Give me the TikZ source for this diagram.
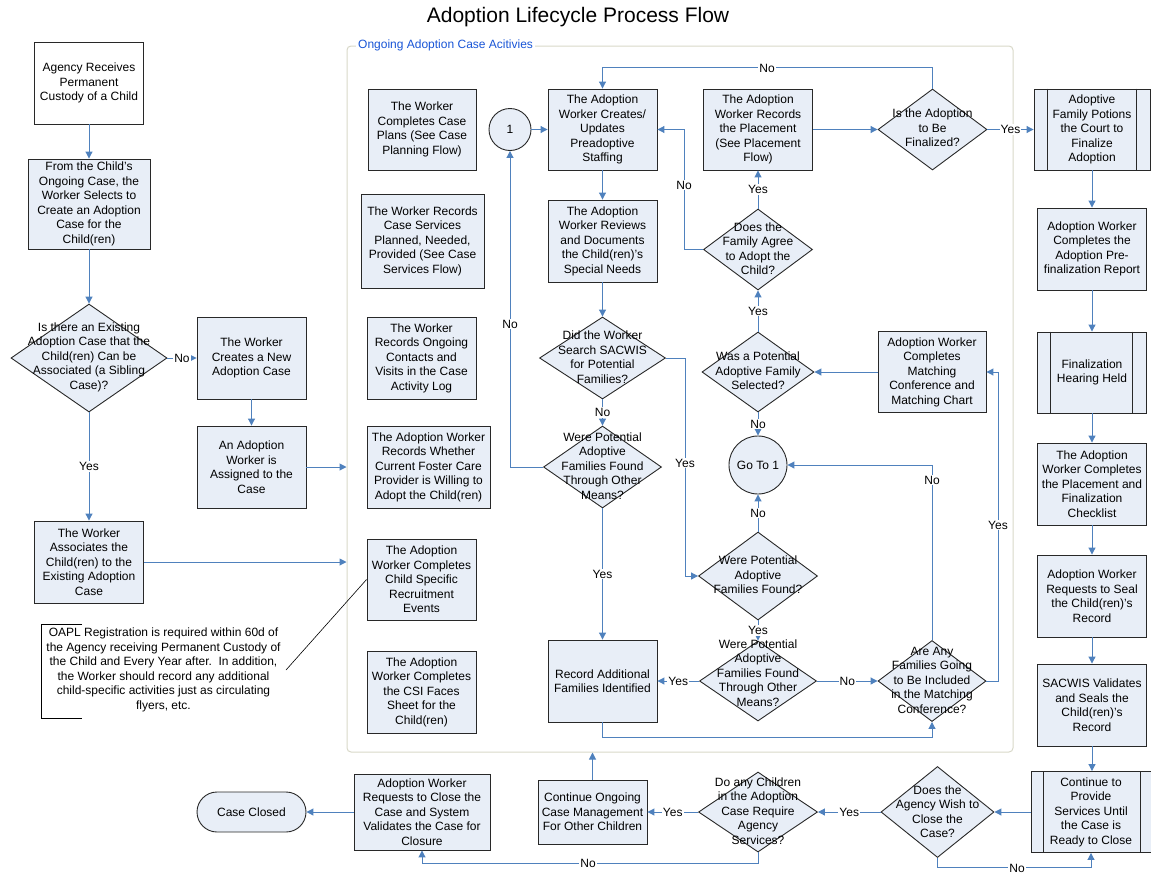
\documentclass[tikz,border=0pt]{standalone}
\usepackage{fontspec}
\setmainfont{Liberation Sans}
\usetikzlibrary{arrows.meta,shapes.geometric,calc}
\definecolor{boxfill}{RGB}{232,238,247}
\definecolor{linkblue}{RGB}{79,129,189}
\definecolor{edgegray}{RGB}{40,40,40}
\definecolor{grpedge}{RGB}{216,216,200}
\definecolor{grptitle}{RGB}{25,85,215}
\begin{document}
\begin{tikzpicture}[x=1pt,y=-1pt,
  every node/.style={font=\fontsize{12}{14.5}\selectfont},
  box/.style={rectangle,draw=edgegray,line width=0.9pt,fill=boxfill,inner sep=0pt,
    align=center,minimum width=109pt,minimum height=82pt},
  dia/.style={diamond,draw=edgegray,line width=0.9pt,fill=boxfill,inner sep=0pt},
  diatext/.style={align=center,inner sep=0pt},
  circ/.style={circle,draw=edgegray,line width=0.9pt,fill=boxfill,inner sep=0pt,align=center},
  arr/.style={draw=linkblue,line width=1pt,-{Triangle[length=7pt,width=7pt]}},
  lbl/.style={fill=white,inner sep=1pt},
  sidebar/.style={draw=edgegray,line width=0.9pt},
  notelink/.style={draw=black,line width=0.6pt}]
\useasboundingbox (0,0) rectangle (1151,873);

% title
\node[font=\fontsize{21}{25}\selectfont] (title) at (578,17) {Adoption Lifecycle Process Flow};

% group frame for the ongoing case activities
\node[draw=grpedge,line width=1pt,rounded corners=4pt,minimum width=666pt,minimum height=706pt,inner sep=0pt] (grp) at (680,399) {};
\node[anchor=west,fill=white,inner sep=2pt,text=grptitle] (grptitle) at (356,45) {Ongoing Adoption Case Acitivies};

% ---------- left column ----------
\node[box,fill=white] (a) at (89,83) {Agency Receives\\Permanent\\Custody of a Child};
\node[box,minimum width=122pt,minimum height=90pt] (b) at (89,204) {From the Child's\\Ongoing Case, the\\Worker Selects to\\Create an Adoption\\Case for the\\Child(ren)};
\node[dia,minimum width=156pt,minimum height=108pt] (d1) at (89,358) {};
\node[diatext] (d1t) at (89,357) {Is there an Existing\\Adoption Case that the\\Child(ren) Can be\\Associated (a Sibling\\Case)?};
\node[box] (c) at (251.5,358) {The Worker\\Creates a New\\Adoption Case};
\node[box] (d) at (251.5,467) {An Adoption\\Worker is\\Assigned to the\\Case};
\node[box] (e) at (89,562) {The Worker\\Associates the\\Child(ren) to the\\Existing Adoption\\Case};

% annotation
\node[align=center,inner sep=0pt] (note) at (163.5,670) {OAPL Registration is required within 60d of\\the Agency receiving Permanent Custody of\\the Child and Every Year after.\ \ In addition,\\the Worker should record any additional\\child-specific activities just as circulating\\flyers, etc.};
\draw[notelink] (82,624) -- (41,624) -- (41,718) -- (82,718);
\coordinate (notetip) at (286,670);

% ---------- activities inside the frame ----------
\node[box,minimum width=108pt,minimum height=81pt] (plan) at (422,129.5) {The Worker\\Completes Case\\Plans (See Case\\Planning Flow)};
\node[box,minimum width=123pt,minimum height=94pt] (serv) at (422.5,241) {The Worker Records\\Case Services\\Planned, Needed,\\Provided (See Case\\Services Flow)};
\node[box] (cont) at (421.5,358) {The Worker\\Records Ongoing\\Contacts and\\Visits in the Case\\Activity Log};
\node[box,minimum width=123pt] (foster) at (428.5,467) {The Adoption Worker\\Records Whether\\Current Foster Care\\Provider is Willing to\\Adopt the Child(ren)};
\node[box,minimum height=81pt] (recruit) at (421.5,579.5) {The Adoption\\Worker Completes\\Child Specific\\Recruitment\\Events};
\node[box] (csi) at (421.5,692) {The Adoption\\Worker Completes\\the CSI Faces\\Sheet for the\\Child(ren)};

\node[circ,minimum size=42pt] (c1) at (510,129.5) {1};
\node[box,minimum height=81pt] (p1) at (602.5,129.5) {The Adoption\\Worker Creates/\\Updates\\Preadoptive\\Staffing};
\node[box] (p2) at (602.5,241) {The Adoption\\Worker Reviews\\and Documents\\the Child(ren)'s\\Special Needs};
\node[dia,minimum width=126pt,minimum height=82pt] (q1) at (602.5,358) {};
\node[diatext] (q1t) at (602.5,357) {Did the Worker\\Search SACWIS\\for Potential\\Families?};
\node[dia,minimum width=118pt,minimum height=82pt] (q2) at (602.5,467) {};
\node[diatext] (q2t) at (602.5,466) {Were Potential\\Adoptive\\Families Found\\Through Other\\Means?};
\node[box] (rec) at (602.5,681) {Record Additional\\Families Identified};

\node[box,minimum height=81pt] (place) at (758,129.5) {The Adoption\\Worker Records\\the Placement\\(See Placement\\Flow)};
\node[dia,minimum width=109pt,minimum height=81pt] (fin) at (932.5,129.5) {};
\node[diatext] (fint) at (932.5,128) {Is the Adoption\\to Be\\Finalized?};
\node[dia,minimum width=109pt,minimum height=81pt] (agree) at (758,249.5) {};
\node[diatext] (agreet) at (758,248.5) {Does the\\Family Agree\\to Adopt the\\Child?};
\node[dia,minimum width=112pt,minimum height=80pt] (sel) at (758,372) {};
\node[diatext] (selt) at (758,371) {Was a Potential\\Adoptive Family\\Selected?};
\node[box,minimum width=108pt,minimum height=81pt] (match) at (932,372) {Adoption Worker\\Completes\\Matching\\Conference and\\Matching Chart};
\node[circ,minimum size=58pt] (goto) at (758,465) {Go To 1};
\node[dia,minimum width=119pt,minimum height=88pt] (found) at (758,576) {};
\node[diatext] (foundt) at (758,575) {Were Potential\\Adoptive\\Families Found?};
\node[dia,minimum width=117pt,minimum height=80pt] (oth) at (758,681) {};
\node[diatext] (otht) at (758,673) {Were Potential\\Adoptive\\Families Found\\Through Other\\Means?};
\node[dia,minimum width=108pt,minimum height=81pt] (any) at (932,681) {};
\node[diatext] (anyt) at (932,680) {Are Any\\Families Going\\to Be Included\\in the Matching\\Conference?};

% ---------- right column ----------
\node[box,minimum width=116pt,minimum height=81pt] (pot) at (1092,129.5) {Adoptive\\Family Potions\\the Court to\\Finalize\\Adoption};
\draw[sidebar] ([xshift=14pt]pot.north west) -- ([xshift=14pt]pot.south west);
\draw[sidebar] ([xshift=-14pt]pot.north east) -- ([xshift=-14pt]pot.south east);
\node[box] (pre) at (1092,249) {Adoption Worker\\Completes the\\Adoption Pre-\\finalization Report};
\node[box,minimum height=81pt] (hear) at (1092,372.5) {Finalization\\Hearing Held};
\draw[sidebar] ([xshift=13pt]hear.north west) -- ([xshift=13pt]hear.south west);
\draw[sidebar] ([xshift=-15pt]hear.north east) -- ([xshift=-15pt]hear.south east);
\node[box] (check) at (1092,484) {The Adoption\\Worker Completes\\the Placement and\\Finalization\\Checklist};
\node[box] (seal) at (1092,596) {Adoption Worker\\Requests to Seal\\the Child(ren)'s\\Record};
\node[box] (sacwis) at (1092,705) {SACWIS Validates\\and Seals the\\Child(ren)'s\\Record};
\node[box,minimum width=120pt,minimum height=81pt] (prov) at (1091,812) {Continue to\\Provide\\Services Until\\the Case is\\Ready to Close};
\draw[sidebar] ([xshift=13pt]prov.north west) -- ([xshift=13pt]prov.south west);
\draw[sidebar] ([xshift=-11pt]prov.north east) -- ([xshift=-11pt]prov.south east);

% ---------- bottom row ----------
\node[dia,minimum width=113pt,minimum height=91pt] (agency) at (937.5,812) {};
\node[diatext] (agencyt) at (937.5,811.5) {Does the\\Agency Wish to\\Close the\\Case?};
\node[dia,minimum width=119pt,minimum height=80pt] (dochild) at (758,812) {};
\node[diatext] (dochildt) at (758,811) {Do any Children\\in the Adoption\\Case Require\\Agency\\Services?};
\node[box,minimum height=64pt] (ongo) at (592.5,812) {Continue Ongoing\\Case Management\\For Other Children};
\node[box,minimum width=136pt,minimum height=76pt] (reqc) at (422,812) {Adoption Worker\\Requests to Close the\\Case and System\\Validates the Case for\\Closure};
\node[box,minimum height=40pt,rounded corners=20pt] (closed) at (251.5,812) {Case Closed};

% ---------- connectors ----------
\draw[arr] (a.south) -- (b.north);
\draw[arr] (b.south) -- (d1.north);
\draw[arr] (d1.east) -- node[lbl] (l1) {No} (c.west);
\draw[arr] (d1.south) -- node[lbl] (l2) {Yes} (e.north);
\draw[arr] (c.south) -- (d.north);
\draw[arr] (d.east) -- (d.east -| grp.west);
\draw[arr] (e.east) -- (e.east -| grp.west);
\draw[notelink] (notetip) -- (recruit.west);

\draw[arr] (c1.east) -- (p1.west);
\draw[arr] (p1.south) -- (p2.north);
\draw[arr] (p2.south) -- (q1.north);
\draw[arr] (q1.south) -- node[lbl] (l3) {No} (q2.north);
\draw[arr] (q2.west) -| (c1.south);
\node[lbl] (l4) at (510,324) {No};
\draw[arr] (q2.south) -- node[lbl] (l5) {Yes} (rec.north);
\draw[arr] (q1.east) -- ++(20,0) |- (found.west);
\node[lbl] (l6) at (685,463) {Yes};
\draw[arr] (found.north) -- node[lbl] (l7) {No} (goto.south);
\draw[arr] (found.south) -- node[lbl] (l8) {Yes} (oth.north);
\draw[arr] (oth.west) -- node[lbl] (l9) {Yes} (rec.east);
\draw[arr] (oth.east) -- node[lbl] (l10) {No} (any.west);
\draw[arr] (rec.south) -- ++(0,15) -| (any.south);
\draw[arr] (any.north) |- (goto.east);
\node[lbl] (l11) at (932,480) {No};
\draw[arr] (any.east) -- ++(12,0) |- (match.east);
\node[lbl] (l12) at (998,525) {Yes};
\draw[arr] (match.west) -- (sel.east);
\draw[arr] (sel.south) -- node[lbl] (l13) {No} (goto.north);
\draw[arr] (sel.north) -- node[lbl] (l14) {Yes} (agree.south);
\draw[arr] (agree.north) -- node[lbl] (l15) {Yes} (place.south);
\draw[arr] (agree.west) -- ++(-19,0) |- (p1.east);
\node[lbl] (l16) at (684,185) {No};
\draw[arr] (place.east) -- (fin.west);
\draw[arr] (fin.north) -- ++(0,-21) -| (p1.north);
\node[lbl] (l17) at (767,68) {No};
\draw[arr] (fin.east) -- node[lbl] (l18) {Yes} (pot.west);

\draw[arr] (pot.south) -- (pre.north);
\draw[arr] (pre.south) -- (hear.north);
\draw[arr] (hear.south) -- (check.north);
\draw[arr] (check.south) -- (seal.north);
\draw[arr] (seal.south) -- (sacwis.north);
\draw[arr] (sacwis.south) -- (sacwis.south |- prov.north);

\draw[arr] (prov.west) -- (agency.east);
\draw[arr] (agency.south) -- ++(0,10) -| (prov.south);
\node[lbl] (l19) at (1017,868) {No};
\draw[arr] (agency.west) -- node[lbl] (l20) {Yes} (dochild.east);
\draw[arr] (dochild.west) -- node[lbl] (l21) {Yes} (ongo.east);
\draw[arr] (dochild.south) -- ++(0,11) -| (reqc.south);
\node[lbl] (l22) at (588,863) {No};
\draw[arr] (ongo.north) -- (ongo.north |- grp.south);
\draw[arr] (reqc.west) -- (closed.east);
\end{tikzpicture}
\end{document}
